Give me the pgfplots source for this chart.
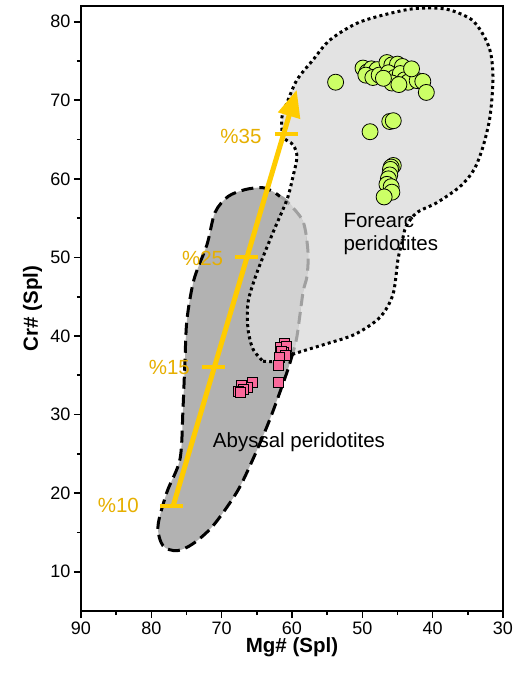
\documentclass[border=0pt]{standalone}
\usepackage{fontspec}
\setmainfont{Liberation Sans}
\usepackage{pgfplots}
\pgfplotsset{compat=1.18}
\usetikzlibrary{arrows.meta}
\definecolor{forearcfill}{RGB}{227,227,227}
\definecolor{abyssfill}{RGB}{178,178,178}
\definecolor{overlapfill}{RGB}{210,210,210}
\definecolor{graydash}{RGB}{160,160,160}
\definecolor{arrowc}{RGB}{255,204,0}
\definecolor{pctc}{RGB}{230,175,0}
\definecolor{greenpt}{RGB}{204,255,102}
\definecolor{pinkpt}{RGB}{250,105,155}
\begin{document}
\begin{tikzpicture}
\begin{axis}[
  at={(0,0)}, anchor=south west,
  scale only axis, width=422pt, height=605pt,
  x dir=reverse, xmin=30, xmax=90, ymin=5, ymax=82,
  xtick={30,40,...,90}, ytick={10,20,...,80},
  minor x tick num=1, minor y tick num=1,
  tick align=outside, tick pos=left,
  major tick length=7pt, minor tick length=4pt,
  axis line style={line width=2pt},
  tick style={line width=1.6pt, black},
  /pgf/number format/assume math mode=true,
  tick label style={font=\fontsize{18}{20}\selectfont},
  xlabel={\textbf{Mg\# (Spl)}},
  ylabel={\textbf{Cr\# (Spl)}},
  label style={font=\fontsize{20.5}{24}\selectfont},
  xlabel style={at={(axis description cs:0.5,-0.0694)}, anchor=base},
  ylabel style={at={(axis description cs:-0.1019,0.5)}, anchor=base},
  clip=false,
]
% Forearc field fill
\addplot[draw=none, fill=forearcfill, smooth, tension=0.5] coordinates {
(64.12,36.79) (61.70,36.79) (59.86,37.68) (55.31,38.95) (51.04,40.22) (47.49,42.38)
(45.64,45.30) (44.93,49.75) (44.36,51.90) (43.79,53.94) (42.23,55.71) (39.38,56.98)
(36.11,59.02) (34.12,61.17) (32.84,64.10) (31.85,67.90) (31.42,72.60) (31.70,75.78)
(32.56,77.94) (34.40,80.22) (37.53,81.49) (40.38,81.75) (43.93,81.49) (50.33,79.97)
(54.60,77.68) (57.01,75.14) (59.29,72.60) (60.71,69.68) (61.42,67.90) (61.28,65.37)
(59.86,64.35) (59.29,62.83) (59.86,60.29) (60.71,57.37) (62.70,53.17) (64.97,48.10)
(66.25,44.29) (66.25,40.86) (65.54,38.32) (64.12,36.79)} -- cycle;
% Abyssal field fill
\addplot[draw=none, fill=abyssfill, smooth, tension=0.5] coordinates {
(59.86,37.94) (60.71,35.40) (63.13,29.43) (65.54,24.35) (67.82,20.16) (71.23,15.84)
(74.08,13.56) (76.35,12.67) (78.34,13.30) (79.05,15.84) (77.77,20.16) (75.92,24.35)
(75.50,30.70) (75.21,37.05) (74.93,42.13) (73.93,47.21) (72.08,51.65) (70.95,55.71)
(69.10,57.75) (66.68,58.63) (64.26,58.89) (62.70,58.38) (61.70,57.75) (60.71,57.11)
(58.43,54.57) (57.72,50.63) (57.87,47.59) (58.43,45.56) (59.29,39.97) (59.86,37.94)} -- cycle;
% Overlap
\addplot[draw=none, fill=overlapfill, smooth, tension=0.4] coordinates {
(60.71,57.30) (62.70,53.17) (64.97,48.10) (66.25,44.29) (66.25,40.86) (65.54,38.32)
(64.12,36.79) (61.70,36.79) (59.86,37.80) (59.29,39.97) (58.43,45.56) (57.87,47.59)
(57.72,50.63) (58.43,54.57) (60.71,57.30)} -- cycle;
% Abyssal outline black dashed
\addplot[black, line width=3pt, dash pattern=on 12pt off 6pt, smooth, tension=0.5] coordinates {
(59.86,37.94) (60.71,35.40) (63.13,29.43) (65.54,24.35) (67.82,20.16) (71.23,15.84)
(74.08,13.56) (76.35,12.67) (78.34,13.30) (79.05,15.84) (77.77,20.16) (75.92,24.35)
(75.50,30.70) (75.21,37.05) (74.93,42.13) (73.93,47.21) (72.08,51.65) (70.95,55.71)
(69.10,57.75) (66.68,58.63) (64.26,58.89) (62.70,58.38) (61.70,57.75)};
% Abyssal outline gray dashed (inside forearc)
\addplot[graydash, line width=3pt, dash pattern=on 12pt off 6pt, smooth, tension=0.5] coordinates {
(61.70,57.75) (60.71,57.11) (58.43,54.57) (57.72,50.63) (57.87,47.59) (58.43,45.56) (59.29,39.97) (59.86,37.94)};
% Forearc outline dotted
\addplot[black, line width=3pt, dash pattern=on 3pt off 3.2pt, smooth, tension=0.5] coordinates {
(64.12,36.79) (61.70,36.79) (59.86,37.68) (55.31,38.95) (51.04,40.22) (47.49,42.38)
(45.64,45.30) (44.93,49.75) (44.36,51.90) (43.79,53.94) (42.23,55.71) (39.38,56.98)
(36.11,59.02) (34.12,61.17) (32.84,64.10) (31.85,67.90) (31.42,72.60) (31.70,75.78)
(32.56,77.94) (34.40,80.22) (37.53,81.49) (40.38,81.75) (43.93,81.49) (50.33,79.97)
(54.60,77.68) (57.01,75.14) (59.29,72.60) (60.71,69.68) (61.42,67.90) (61.28,65.37)
(59.86,64.35) (59.29,62.83) (59.86,60.29) (60.71,57.37) (62.70,53.17) (64.97,48.10)
(66.25,44.29) (66.25,40.86) (65.54,38.32) (64.12,36.79)};
% Melting arrow
\addplot[arrowc, line width=5pt, -{Triangle[length=27pt,width=22pt]}] coordinates {(76.88,18.42) (59.33,71.33)};
\addplot[arrowc, line width=4pt] coordinates {(78.77,18.42) (75.45,18.42)};
\addplot[arrowc, line width=4pt] coordinates {(72.84,36.0) (69.53,36.0)};
\addplot[arrowc, line width=4pt] coordinates {(68.10,50.04) (64.79,50.04)};
\addplot[arrowc, line width=4pt] coordinates {(62.42,65.75) (59.10,65.75)};
% Forearc samples
\addplot[only marks, mark=*, mark size=8pt, mark options={fill=greenpt, draw=black, line width=0.8pt}] coordinates {
(53.8,72.3)
(49.9,74.1) (49.3,73.6) (48.7,74.0) (48.2,73.5) (47.9,73.9) (49.5,73.2) (48.5,72.9) (47.6,73.2)
(46.5,74.8) (45.8,74.5) (45.0,74.6) (44.3,74.3) (46.3,73.5) (45.4,72.9) (44.6,73.4) (44.0,72.6)
(43.5,72.3) (42.2,72.5) (41.4,72.4) (40.9,71.0) (45.8,72.2) (47.0,72.8) (44.8,72.0) (43.0,74.0)
(46.1,67.3) (45.6,67.4) (48.9,66.0)
(45.6,61.7) (45.9,61.5) (46.0,61.2) (46.1,60.5) (46.3,60.0) (46.5,59.3) (45.9,59.0) (45.8,58.3) (46.9,57.7)};
% Abyssal samples
\addplot[only marks, mark=square*, mark size=5pt, mark options={fill=pinkpt, draw=black, line width=0.8pt}] coordinates {
(61.1,39.0) (61.6,38.5) (60.8,38.7) (61.2,37.9) (61.5,38.0) (60.9,37.5) (61.8,37.3) (61.9,36.3) (62.0,34.1)
(65.6,34.1) (66.4,33.4) (67.2,33.7) (66.9,33.2) (67.6,33.0) (67.4,32.8)};
% Labels
\node[anchor=east, inner sep=0pt, text=pctc, font=\fontsize{20.5}{24}\selectfont] at (axis cs:81.75,18.4) {\%10};
\node[anchor=east, inner sep=0pt, text=pctc, font=\fontsize{20.5}{24}\selectfont] at (axis cs:74.50,36.0) {\%15};
\node[anchor=east, inner sep=0pt, text=pctc, font=\fontsize{20.5}{24}\selectfont] at (axis cs:69.77,49.87) {\%25};
\node[anchor=east, inner sep=0pt, text=pctc, font=\fontsize{20.5}{24}\selectfont] at (axis cs:64.31,65.40) {\%35};
\node[anchor=base west, inner sep=0pt, font=\fontsize{20.5}{24}\selectfont] at (axis cs:71.27,25.83) {Abyssal peridotites};
\node[anchor=base west, inner sep=0pt, font=\fontsize{20.5}{24}\selectfont] at (axis cs:52.70,53.81) {Forearc};
\node[anchor=base west, inner sep=0pt, font=\fontsize{20.5}{24}\selectfont] at (axis cs:52.70,50.93) {peridotites};
\end{axis}
\pgfresetboundingbox
\path[use as bounding box] (-81pt,-65pt) rectangle (441pt,611pt);
\end{tikzpicture}
\end{document}
